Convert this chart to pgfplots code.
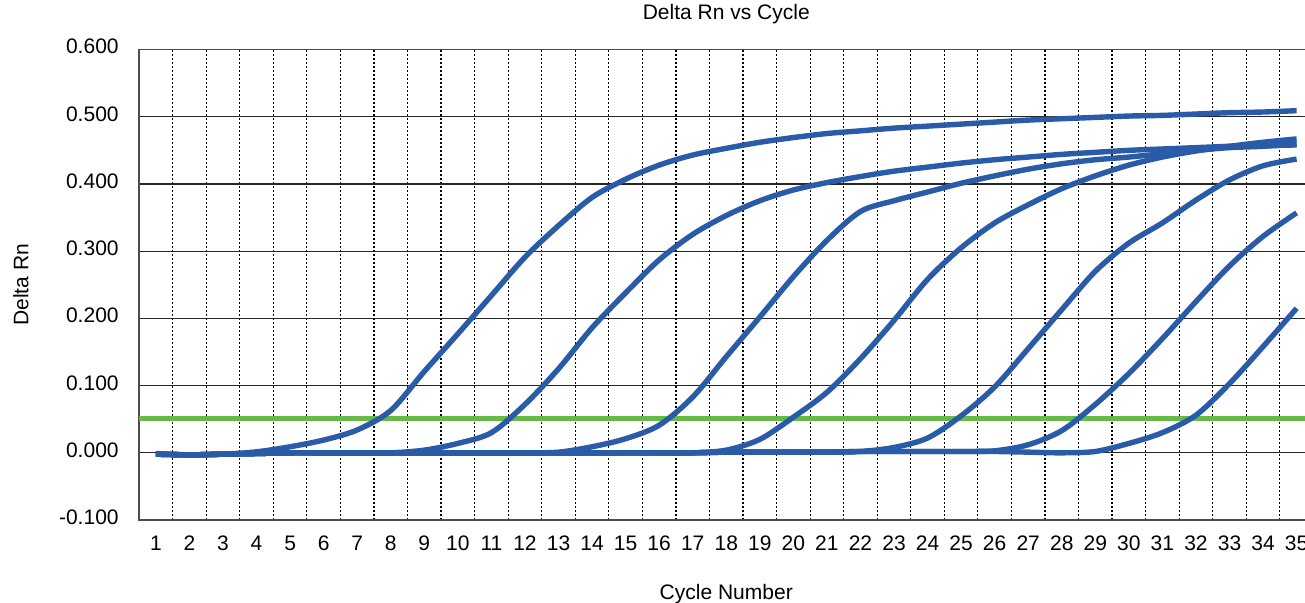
\documentclass[border=0pt]{standalone}
\usepackage{fontspec}
\setmainfont{Liberation Sans}
\usepackage{pgfplots}
\usepackage{pgfplotstable}
\pgfplotsset{compat=1.18}
\definecolor{curveblue}{RGB}{42,91,168}
\definecolor{threshgreen}{RGB}{102,187,70}
\pgfplotstableread{
c A B C D E F G
1 -0.001 -0.002 -0.002 -0.002 -0.002 -0.002 -0.002
2 -0.003 -0.003 -0.003 -0.003 -0.003 -0.003 -0.003
3 -0.002 -0.002 -0.002 -0.002 -0.002 -0.002 -0.002
4 0.0015 -0.001 -0.001 -0.001 -0.001 -0.001 -0.001
5 0.009 0.000 0.000 0.000 0.000 0.000 0.000
6 0.019 0.000 0.000 0.000 0.000 0.000 0.000
7 0.034 0.000 0.000 0.000 0.000 0.000 0.000
8 0.063 0.000 0.000 0.000 0.000 0.000 0.000
9 0.121 0.004 0.000 0.000 0.000 0.000 0.000
10 0.177 0.014 0.000 0.000 0.000 0.000 0.000
11 0.234 0.030 0.000 0.000 0.000 0.000 0.000
12 0.291 0.072 0.000 0.000 0.000 0.000 0.000
13 0.338 0.125 0.001 0.000 0.000 0.000 0.000
14 0.380 0.186 0.009 0.000 0.000 0.000 0.000
15 0.407 0.238 0.021 0.000 0.000 0.000 0.000
16 0.428 0.287 0.041 0.000 0.000 0.000 0.000
17 0.443 0.325 0.083 0.000 0.000 0.000 0.000
18 0.453 0.353 0.143 0.004 0.001 0.001 0.001
19 0.462 0.375 0.202 0.020 0.001 0.001 0.001
20 0.469 0.391 0.262 0.053 0.001 0.001 0.001
21 0.475 0.402 0.316 0.090 0.001 0.001 0.001
22 0.479 0.411 0.359 0.140 0.002 0.002 0.002
23 0.483 0.419 0.375 0.197 0.008 0.002 0.002
24 0.486 0.425 0.388 0.258 0.022 0.002 0.002
25 0.489 0.431 0.401 0.305 0.055 0.002 0.002
26 0.492 0.436 0.412 0.342 0.098 0.003 0.002
27 0.495 0.440 0.422 0.369 0.155 0.012 0.001
28 0.497 0.444 0.430 0.393 0.213 0.033 0.000
29 0.499 0.447 0.436 0.412 0.270 0.072 0.002
30 0.501 0.450 0.440 0.428 0.312 0.118 0.014
31 0.502 0.452 0.445 0.440 0.342 0.170 0.030
32 0.504 0.454 0.450 0.449 0.376 0.225 0.056
33 0.506 0.456 0.454 0.456 0.406 0.278 0.103
34 0.507 0.457 0.456 0.462 0.427 0.322 0.158
35 0.509 0.458 0.459 0.467 0.437 0.357 0.215
}\qpcr
\begin{document}
\fontsize{10.5}{12.6}\selectfont
\begin{tikzpicture}
\begin{axis}[
  scale only axis,
  width=586.95pt, height=235.2pt,
  xmin=0.5, xmax=35.5,
  ymin=-0.1, ymax=0.6,
  xtick={1,...,35},
  minor xtick={1.5,2.5,...,34.5},
  ytick={-0.1,0,0.1,0.2,0.3,0.4,0.5,0.6},
  yticklabels={-0.100,0.000,0.100,0.200,0.300,0.400,0.500,0.600},
  /pgf/number format/assume math mode=true,
  major tick length=0pt, minor tick length=0pt,
  ymajorgrids, xminorgrids,
  major grid style={black!85, line width=0.6pt},
  minor grid style={black, line width=0.6pt, dash pattern=on 1pt off 1pt},
  axis line style={black!70, line width=0.7pt},
  every tick label/.append style={font=\fontsize{10.5}{12.6}\selectfont},
  xticklabel style={anchor=base, yshift=-15.05pt},
  yticklabel style={anchor=east, xshift=-6.55pt, yshift=1.4pt},
  title={Delta Rn vs Cycle},
  title style={at={(axis description cs:0.5,1)}, anchor=base, yshift=8.9pt, font=\fontsize{10.5}{12.6}\selectfont},
  xlabel={Cycle Number},
  xlabel style={at={(axis description cs:0.5,0)}, anchor=base, yshift=-39.7pt, font=\fontsize{10.5}{12.6}\selectfont},
  ylabel={Delta Rn},
  ylabel style={at={(axis description cs:-0.10077,0.5)}, anchor=center, rotate=0, font=\fontsize{10.5}{12.6}\selectfont},
  every axis plot/.append style={line join=round},
  clip=true,
]
\addplot[threshgreen, line width=2.7pt] coordinates {(0.5,0.0513) (35.5,0.0513)};
\foreach \col in {G,F,E,D,C,B,A}{
  \addplot[curveblue, line width=2.7pt, smooth, tension=0.5] table[x=c, y=\col] {\qpcr};
}
\coordinate (BL) at (rel axis cs:0,0);
\coordinate (CR) at (axis cs:35.25,0.6);
\end{axis}
\pgfresetboundingbox
\path[use as bounding box] ([xshift=-69.55pt,yshift=-41.05pt]BL) rectangle ([yshift=24.75pt]CR);
\end{tikzpicture}
\end{document}
